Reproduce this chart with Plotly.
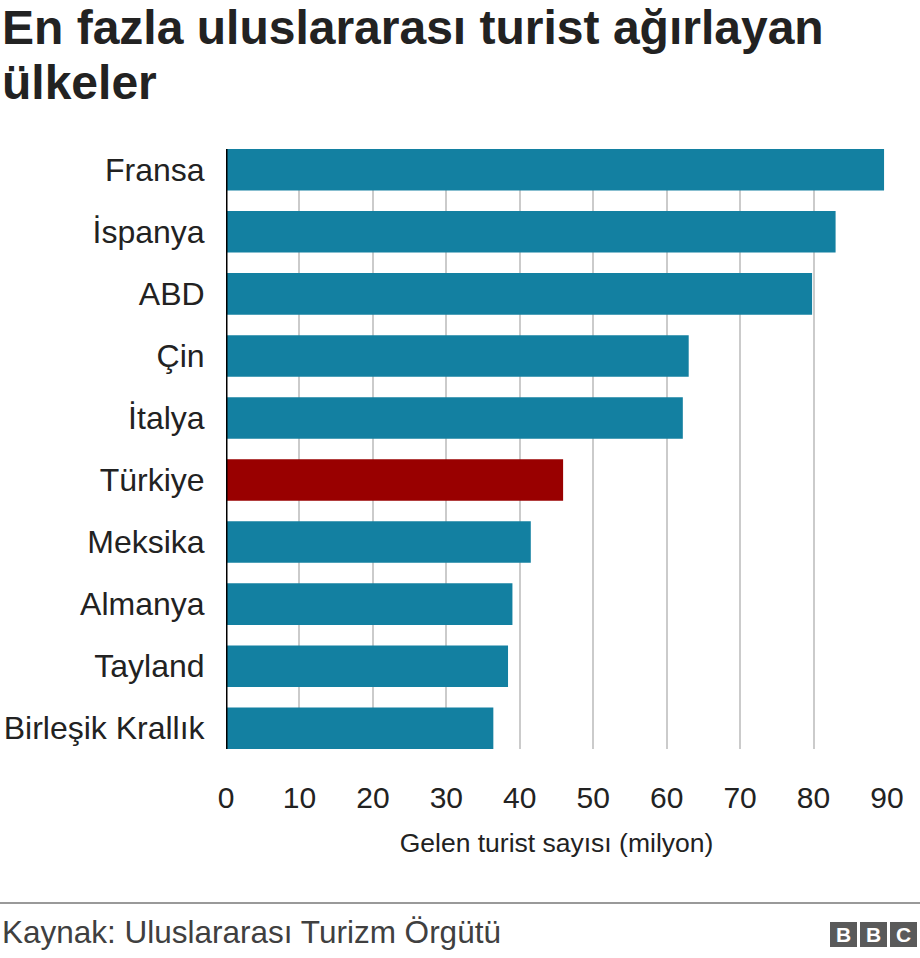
import plotly.graph_objects as go

# Data
countries = ["Fransa", "İspanya", "ABD", "Çin", "İtalya",
             "Türkiye", "Meksika", "Almanya", "Tayland", "Birleşik Krallık"]
tourists = [89.6, 83.0, 79.8, 63.0, 62.2, 45.9, 41.5, 39.0, 38.4, 36.4]
highlight = "Türkiye"
x_ticks = [0, 10, 20, 30, 40, 50, 60, 70, 80, 90]

bar_colors = ["#990000" if c == highlight else "#1380A1" for c in countries]

fig = go.Figure()
fig.add_trace(go.Bar(
    x=tourists,
    y=countries,
    orientation="h",
    marker=dict(color=bar_colors, line=dict(width=0)),
    hoverinfo="x+y",
))

W, H = 920, 958
L, T, PW, PH = 226, 149, 661, 600   # plot area in pixels
font = "Liberation Sans, Arial, sans-serif"


def px_x(x):
    return (x - L) / PW


def px_y(y):
    return (T + PH - y) / PH


fig.update_layout(
    width=W, height=H,
    margin=dict(l=L, r=W - L - PW, t=T, b=H - T - PH),
    paper_bgcolor="white",
    plot_bgcolor="white",
    bargap=0.33,
    showlegend=False,
    font=dict(family=font, color="#222222"),
)

fig.update_xaxes(
    range=[0, 90],
    tickvals=x_ticks,
    tickfont=dict(size=30, color="#222222"),
    ticks="outside", ticklen=22, tickcolor="rgba(0,0,0,0)",
    showgrid=True, gridcolor="#cbcbcb", gridwidth=2,
    zeroline=False,
    showline=False,
    automargin=False,
    title=dict(text="Gelen turist sayısı (milyon)",
               font=dict(size=26.5, color="#222222"), standoff=20),
)

n = len(countries)
fig.update_yaxes(
    categoryorder="array", categoryarray=countries,
    range=[n - 1 + 0.335, -0.335],
    tickfont=dict(size=32, color="#222222"),
    ticks="outside", ticklen=14, tickcolor="rgba(0,0,0,0)",
    showgrid=False,
    showline=False, zeroline=False,
    automargin=False,
)

# baseline at zero
fig.add_shape(type="line", xref="x", yref="paper", x0=0, x1=0, y0=0, y1=1,
              line=dict(color="black", width=3), layer="above")

# title, two lines
for line, base in [("En fazla uluslararası turist ağırlayan", 56), ("ülkeler", 111)]:
    fig.add_annotation(
        text="<b>" + line + "</b>", xref="paper", yref="paper",
        x=px_x(0), xanchor="left", y=px_y(base), yanchor="bottom",
        showarrow=False, font=dict(size=48, color="#222222", family=font),
    )

# footer separator
fig.add_shape(type="line", xref="paper", yref="paper",
              x0=px_x(0), x1=px_x(W), y0=px_y(903), y1=px_y(903),
              line=dict(color="#777777", width=1.5))

fig.add_annotation(
    text="Kaynak: Uluslararası Turizm Örgütü",
    xref="paper", yref="paper",
    x=px_x(0), xanchor="left",
    y=px_y(932), yanchor="middle",
    showarrow=False,
    font=dict(size=31.5, color="#404040", family=font),
)

# BBC blocks
for i, letter in enumerate(["B", "B", "C"]):
    x0 = 830 + i * 30
    fig.add_shape(type="rect", xref="paper", yref="paper",
                  x0=px_x(x0), x1=px_x(x0 + 27),
                  y0=px_y(947), y1=px_y(922),
                  fillcolor="#5a5a5a", line=dict(width=0))
    fig.add_annotation(text="<b>" + letter + "</b>", xref="paper", yref="paper",
                       x=px_x(x0 + 13.5), y=px_y(934.5),
                       xanchor="center", yanchor="middle", showarrow=False,
                       font=dict(size=21, color="white", family=font))

fig.write_html("out.html", config={"displayModeBar": False},
               post_script="document.body.style.margin='0';")
